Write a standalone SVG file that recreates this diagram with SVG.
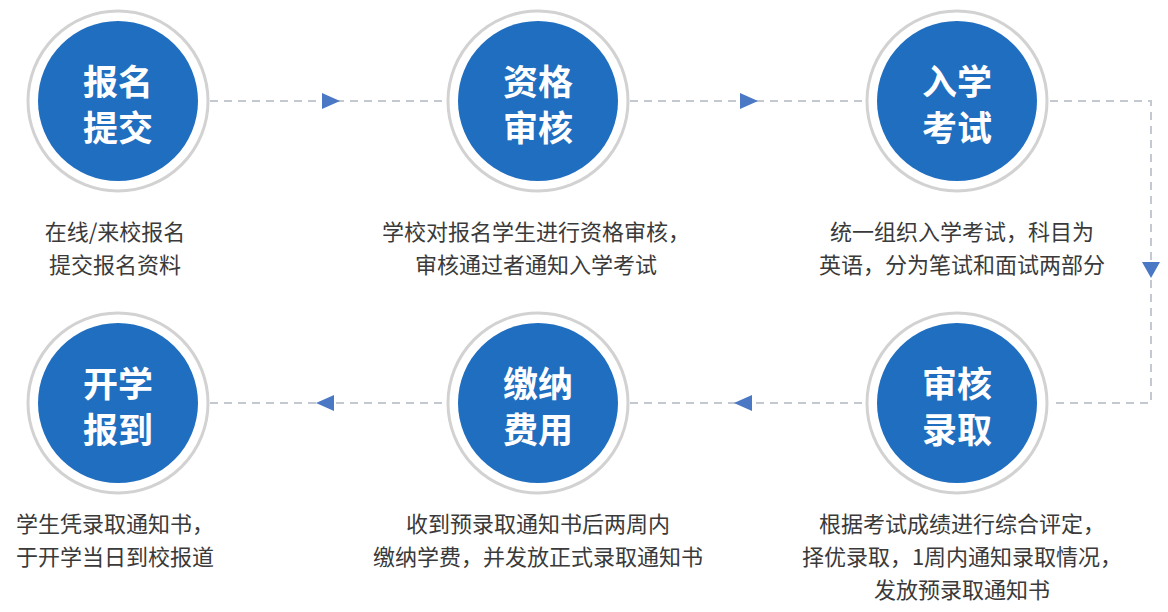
<svg xmlns="http://www.w3.org/2000/svg" width="1168" height="612" viewBox="0 0 1168 612">
<defs>
<style>
.ring{fill:#fff;stroke:#d2d2d2;stroke-width:3}
.dot{fill:#1f6ec0}
.ct{font-family:"Noto Sans CJK SC",sans-serif;font-weight:bold;font-size:35px;fill:#fff;text-anchor:middle}
.lt{font-family:"Noto Sans CJK SC",sans-serif;font-size:22px;fill:#3a3a3a;text-anchor:middle}
.dash{fill:none;stroke:#c4c8d0;stroke-width:2;stroke-dasharray:8 6}
.arr{fill:#4a78c4}
</style>
</defs>
<g id="connectors">
<line class="dash" x1="210" y1="101" x2="445" y2="101"/>
<line class="dash" x1="630" y1="101" x2="864" y2="101"/>
<polyline class="dash" points="1050,101 1151,101 1151,403 1050,403"/>
<line class="dash" x1="630" y1="403" x2="864" y2="403"/>
<line class="dash" x1="210" y1="403" x2="445" y2="403"/>
<polygon class="arr" points="322,93 340,101 322,109"/>
<polygon class="arr" points="740,93 758,101 740,109"/>
<polygon class="arr" points="1142,262 1160,262 1151,278"/>
<polygon class="arr" points="752,395 734,403 752,411"/>
<polygon class="arr" points="334,395 316,403 334,411"/>
</g>
<g id="n1"><circle class="ring" cx="118" cy="101" r="90"/><circle class="dot" cx="118" cy="101" r="80"/>
<text class="ct" x="118" y="95">报名</text><text class="ct" x="118" y="141">提交</text>
<text class="lt" x="115" y="240">在线/来校报名</text><text class="lt" x="115" y="273">提交报名资料</text></g>
<g id="n2"><circle class="ring" cx="538" cy="101" r="90"/><circle class="dot" cx="538" cy="101" r="80"/>
<text class="ct" x="538" y="95">资格</text><text class="ct" x="538" y="141">审核</text>
<text class="lt" x="536" y="240">学校对报名学生进行资格审核，</text><text class="lt" x="536" y="273">审核通过者通知入学考试</text></g>
<g id="n3"><circle class="ring" cx="957" cy="101" r="90"/><circle class="dot" cx="957" cy="101" r="80"/>
<text class="ct" x="957" y="95">入学</text><text class="ct" x="957" y="141">考试</text>
<text class="lt" x="962" y="240">统一组织入学考试，科目为</text><text class="lt" x="962" y="273">英语，分为笔试和面试两部分</text></g>
<g id="n4"><circle class="ring" cx="957" cy="403" r="90"/><circle class="dot" cx="957" cy="403" r="80"/>
<text class="ct" x="957" y="397">审核</text><text class="ct" x="957" y="443">录取</text>
<text class="lt" x="962" y="532">根据考试成绩进行综合评定，</text><text class="lt" x="962" y="565">择优录取，1周内通知录取情况，</text><text class="lt" x="962" y="598">发放预录取通知书</text></g>
<g id="n5"><circle class="ring" cx="538" cy="403" r="90"/><circle class="dot" cx="538" cy="403" r="80"/>
<text class="ct" x="538" y="397">缴纳</text><text class="ct" x="538" y="443">费用</text>
<text class="lt" x="538" y="532">收到预录取通知书后两周内</text><text class="lt" x="538" y="565">缴纳学费，并发放正式录取通知书</text></g>
<g id="n6"><circle class="ring" cx="118" cy="403" r="90"/><circle class="dot" cx="118" cy="403" r="80"/>
<text class="ct" x="118" y="397">开学</text><text class="ct" x="118" y="443">报到</text>
<text class="lt" x="115" y="532">学生凭录取通知书，</text><text class="lt" x="115" y="565">于开学当日到校报道</text></g>
</svg>
